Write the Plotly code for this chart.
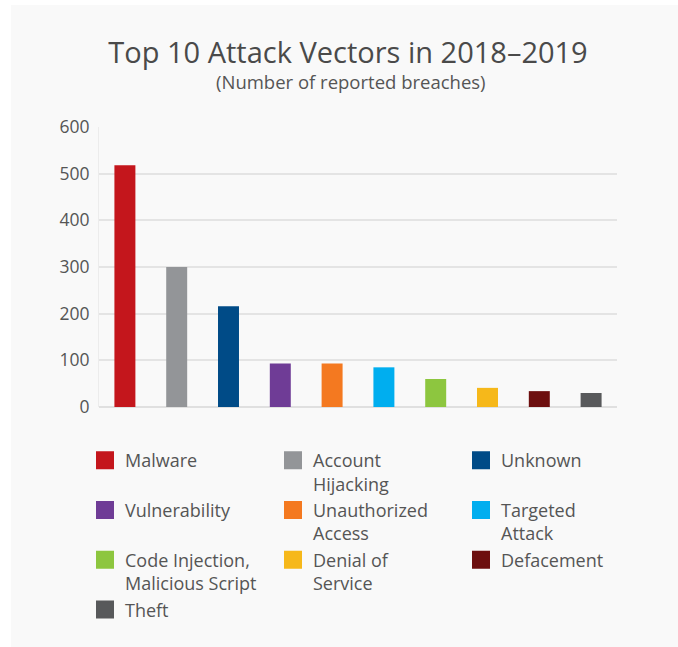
import plotly.graph_objects as go

categories = ["Malware", "Account Hijacking", "Unknown", "Vulnerability",
              "Unauthorized Access", "Targeted Attack",
              "Code Injection, Malicious Script", "Denial of Service",
              "Defacement", "Theft"]
legend_labels = ["Malware", "Account<br>Hijacking", "Unknown", "Vulnerability",
                 "Unauthorized<br>Access", "Targeted<br>Attack",
                 "Code Injection,<br>Malicious Script", "Denial of<br>Service",
                 "Defacement", "Theft"]
values = [518, 300, 216, 93, 93, 85, 60, 41, 34, 30]
colors = ["#c4161c", "#939598", "#004b87", "#6f3c96", "#f47920",
          "#00aeef", "#8dc63f", "#f6b81a", "#6d0f0f", "#58595b"]
y_ticks = [0, 100, 200, 300, 400, 500, 600]

TEXT = "#555555"
FONT = "Open Sans"
PANEL = "#f9f9f9"

fig = go.Figure()
fig.add_trace(go.Bar(x=categories, y=values, marker=dict(color=colors, line=dict(width=0)),
                     showlegend=False, hoverinfo="x+y"))
for lab, col in zip(legend_labels, colors):
    fig.add_trace(go.Scatter(x=[None], y=[None], mode="markers", name=lab,
                             marker=dict(symbol="square", size=16, color=col,
                                         line=dict(width=2, color=col)),
                             showlegend=True))

W, H = 678, 647
L, R, T, B = 99, 61, 127, 240
ph = H - T - B
pw = W - L - R

def px_x(x):
    return (x - L) / pw

def px_y(y):
    return (H - B - y) / ph

# white outer strips (left and top) around the light panel
fig.add_shape(type="rect", xref="paper", yref="paper",
              x0=px_x(-5), x1=px_x(11), y0=px_y(700), y1=px_y(-5),
              fillcolor="white", line=dict(width=0), layer="below")
fig.add_shape(type="rect", xref="paper", yref="paper",
              x0=px_x(-5), x1=px_x(700), y0=px_y(5), y1=px_y(-5),
              fillcolor="white", line=dict(width=0), layer="below")

fig.add_annotation(text="(Number of reported breaches)", xref="paper", yref="paper",
                   x=px_x(351), y=px_y(82), xanchor="center", yanchor="middle",
                   showarrow=False, font=dict(family=FONT, size=18.5, color=TEXT))

fig.update_layout(
    width=W, height=H,
    margin=dict(l=L, r=R, t=T, b=B, pad=0),
    paper_bgcolor=PANEL, plot_bgcolor=PANEL,
    title=dict(text="Top 10 Attack Vectors in 2018–2019", xref="container", yref="container",
               x=348 / W, y=1 - 53 / H, xanchor="center", yanchor="middle",
               font=dict(family=FONT, size=29, color="#4a4a4a")),
    bargap=0.595,
    xaxis=dict(showticklabels=False, showgrid=False, zeroline=False, showline=False,
               ticks=""),
    yaxis=dict(range=[0, 600], tickvals=y_ticks, showgrid=True, gridcolor="#e4e4e4",
               gridwidth=1.5, zeroline=True, zerolinecolor="#e0e0e0", zerolinewidth=1.5,
               showline=True, linecolor="#ececec", linewidth=1,
               ticks="outside", ticklen=5, tickcolor="rgba(0,0,0,0)",
               tickfont=dict(family=FONT, size=17.5, color=TEXT)),
    legend=dict(orientation="h", x=px_x(85), y=px_y(442), xanchor="left", yanchor="top",
                entrywidth=143, entrywidthmode="pixels", valign="top",
                bgcolor="rgba(0,0,0,0)", itemsizing="trace",
                font=dict(family=FONT, size=18, color=TEXT), tracegroupgap=0),
    showlegend=True,
)

fig.write_html("out.html")
